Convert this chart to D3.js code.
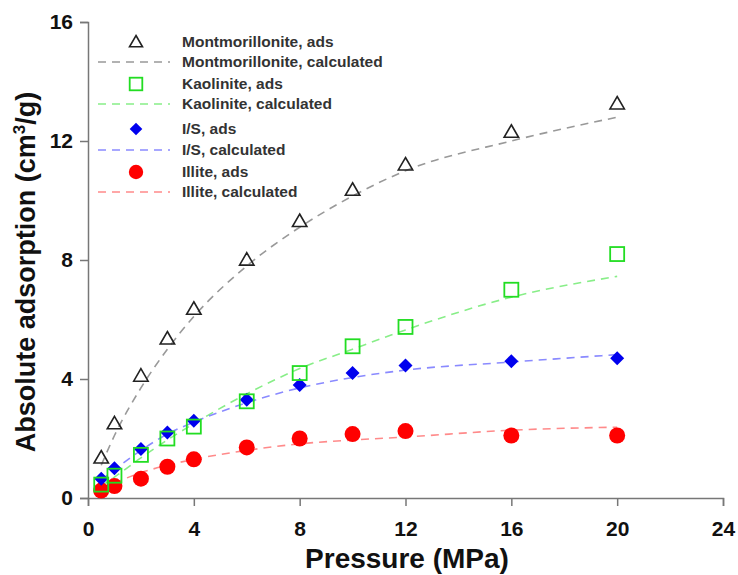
<!DOCTYPE html>
<html>
<head>
<meta charset="utf-8">
<script src="https://cdn.jsdelivr.net/npm/d3@7"></script>
<style>
  body { margin: 0; background: #fff; }
  svg { font-family: "Liberation Sans", Arial, sans-serif; }
</style>
</head>
<body>
<svg width="738" height="575"></svg>
<script>
// pressures (MPa)
const pressure = [0.5, 1, 2, 3, 4, 6, 8, 10, 12, 16, 20];

// measured adsorption (cm3/g)
const montAds = [1.35, 2.5, 4.1, 5.35, 6.35, 8.0, 9.3, 10.35, 11.2, 12.3, 13.25];
const kaolAds = [0.45, 0.75, 1.45, 2.0, 2.4, 3.25, 4.2, 5.1, 5.75, 7.0, 8.2];
const isAds = [0.65, 1.0, 1.65, 2.2, 2.6, 3.3, 3.8, 4.2, 4.45, 4.6, 4.7];
const illAds = [0.25, 0.4, 0.65, 1.05, 1.3, 1.7, 2.0, 2.15, 2.25, 2.1, 2.1];

// calculated curves
const montCalc = [1.1, 2.1, 3.7, 5.0, 6.1, 7.8, 9.1, 10.15, 11.0, 12.0, 12.8];
const kaolCalc = [0.4, 0.7, 1.35, 1.95, 2.5, 3.5, 4.35, 5.0, 5.65, 6.75, 7.45];
const isCalc = [0.6, 0.95, 1.6, 2.15, 2.55, 3.2, 3.7, 4.05, 4.3, 4.57, 4.82];
const illCalc = [0.3, 0.5, 0.85, 1.1, 1.3, 1.6, 1.82, 1.95, 2.05, 2.28, 2.38];

const xTicks = [0, 4, 8, 12, 16, 20, 24];
const yTicks = [0, 4, 8, 12, 16];

const series = [
  { name: "Montmorillonite", ads: montAds, calc: montCalc, sym: "triangle", fill: "none", stroke: "#222", line: "#999" },
  { name: "Kaolinite", ads: kaolAds, calc: kaolCalc, sym: "square", fill: "none", stroke: "#22dd22", line: "#88ee88" },
  { name: "I/S", ads: isAds, calc: isCalc, sym: "diamond", fill: "#0000ee", stroke: "#0000ee", line: "#8a8aff" },
  { name: "Illite", ads: illAds, calc: illCalc, sym: "circle", fill: "#ff0000", stroke: "#ff0000", line: "#ff8a8a" }
];

const svg = d3.select("svg");
const x = d3.scaleLinear().domain([0, 24]).range([88, 723]);
const y = d3.scaleLinear().domain([0, 16]).range([498, 22]);

// axes
const xAxis = svg.append("g")
  .attr("transform", "translate(0,498)")
  .call(d3.axisBottom(x).tickValues(xTicks).tickSize(8).tickPadding(15));
const yAxis = svg.append("g")
  .attr("transform", "translate(88,0)")
  .call(d3.axisLeft(y).tickValues(yTicks).tickSize(8).tickPadding(7));

[xAxis, yAxis].forEach(g => {
  g.select(".domain").attr("stroke", "#777").attr("stroke-width", 1.5);
  g.selectAll(".tick line").attr("stroke", "#777").attr("stroke-width", 1.5);
  g.selectAll(".tick text")
    .attr("fill", "#111")
    .style("font-size", "21px")
    .style("font-weight", "bold");
});

svg.append("text")
  .attr("x", 407).attr("y", 568)
  .attr("text-anchor", "middle")
  .attr("fill", "#111")
  .style("font-size", "28px").style("font-weight", "bold")
  .text("Pressure (MPa)");

const yt = svg.append("text")
  .attr("transform", "translate(35,272) rotate(-90)")
  .attr("text-anchor", "middle")
  .attr("fill", "#111")
  .style("font-size", "27px").style("font-weight", "bold");
yt.append("tspan").text("Absolute adsorption (cm");
yt.append("tspan").attr("dy", -10).style("font-size", "17px").text("3");
yt.append("tspan").attr("dy", 10).text("/g)");

// symbols
function drawSymbol(g, sym, s, scale) {
  const k = scale || 1;
  if (sym === "triangle") {
    g.append("path")
      .attr("d", d3.symbol(d3.symbolTriangle, 90 * k * k)())
      .attr("transform", "translate(0,1)")
      .attr("fill", "none").attr("stroke", s.stroke).attr("stroke-width", 1.6);
  } else if (sym === "square") {
    g.append("rect")
      .attr("x", -7 * k).attr("y", -7 * k).attr("width", 14 * k).attr("height", 14 * k)
      .attr("fill", "none").attr("stroke", s.stroke).attr("stroke-width", 1.8);
  } else if (sym === "diamond") {
    const r = 7 * k;
    g.append("path")
      .attr("d", `M0,${-r}L${r},0L0,${r}L${-r},0Z`)
      .attr("fill", s.fill);
  } else {
    g.append("circle").attr("r", 8 * k).attr("fill", s.fill);
  }
}

const line = d3.line()
  .x((d, i) => x(pressure[i]))
  .y(d => y(d))
  .curve(d3.curveMonotoneX);

// calculated curves
series.forEach(s => {
  svg.append("path")
    .attr("d", line(s.calc))
    .attr("fill", "none")
    .attr("stroke", s.line)
    .attr("stroke-width", 1.6)
    .attr("stroke-dasharray", "8,6");
});

// measured points
series.slice().reverse().forEach(s => {
  s.ads.forEach((v, i) => {
    const g = svg.append("g").attr("transform", `translate(${x(pressure[i])},${y(v)})`);
    drawSymbol(g, s.sym, s);
  });
});

// legend
const legY = [42, 62, 84, 104, 129, 150, 172, 192];
series.forEach((s, k) => {
  const ys = legY[k * 2], yl = legY[k * 2 + 1];
  const g = svg.append("g").attr("transform", `translate(136,${ys})`);
  drawSymbol(g, s.sym, s, 0.9);
  svg.append("line")
    .attr("x1", 98).attr("x2", 170).attr("y1", yl).attr("y2", yl)
    .attr("stroke", s.line).attr("stroke-width", 1.6)
    .attr("stroke-dasharray", "8,6");
  svg.append("text").attr("x", 182).attr("y", ys).attr("dy", "0.35em")
    .attr("fill", "#333").style("font-size", "15.5px").style("font-weight", "bold")
    .text(s.name + ", ads");
  svg.append("text").attr("x", 182).attr("y", yl).attr("dy", "0.35em")
    .attr("fill", "#333").style("font-size", "15.5px").style("font-weight", "bold")
    .text(s.name + ", calculated");
});
</script>
</body>
</html>
